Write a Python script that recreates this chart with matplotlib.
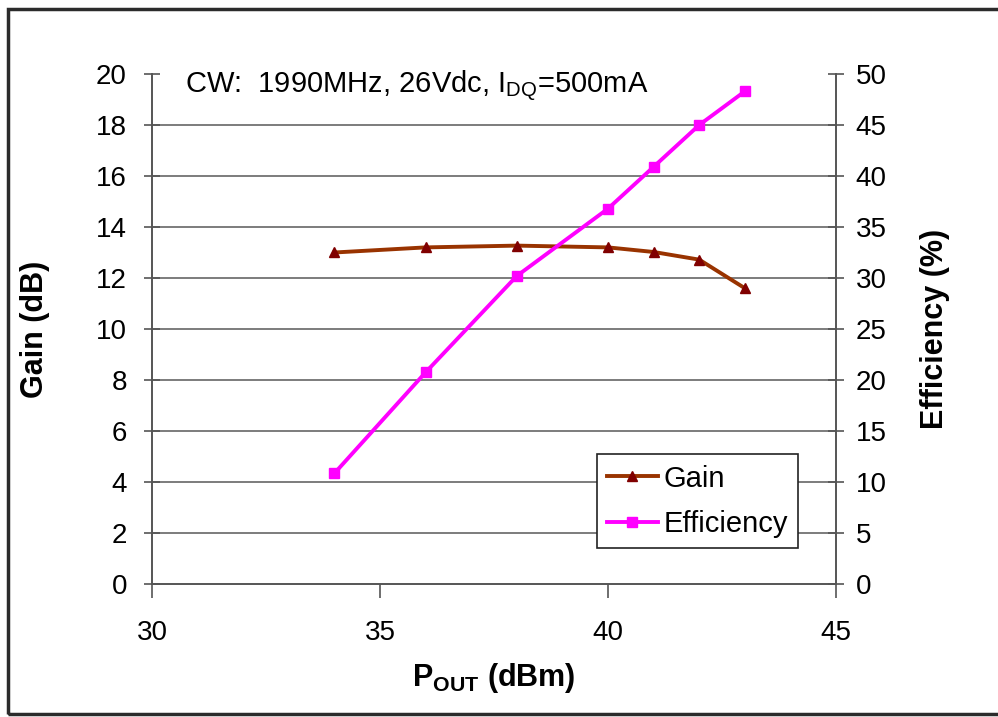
import matplotlib
matplotlib.use("Agg")
import matplotlib.pyplot as plt
from matplotlib.patches import Rectangle

plt.rcParams['font.family'] = ['Liberation Sans', 'DejaVu Sans']
plt.rcParams['mathtext.fontset'] = 'custom'
plt.rcParams['mathtext.rm'] = 'Liberation Sans'
plt.rcParams['mathtext.it'] = 'Liberation Sans'
plt.rcParams['mathtext.bf'] = 'Liberation Sans:bold'

pout = [34, 36, 38, 40, 41, 42, 43]
gain = [13.0, 13.2, 13.27, 13.2, 13.02, 12.72, 11.6]
efficiency = [10.85, 20.75, 30.2, 36.8, 40.9, 45.0, 48.3]

x_ticks = [30, 35, 40, 45]
gain_ticks = list(range(0, 21, 2))
eff_ticks = list(range(0, 51, 5))

fig = plt.figure(figsize=(9.98, 7.17), dpi=100)
ax = fig.add_axes([0.1523, 0.1855, 0.6854, 0.7113])
ax2 = ax.twinx()

for g in gain_ticks[1:-1]:
    ax.axhline(g, color='#666666', lw=1.2, zorder=0)

l1, = ax.plot(pout, gain, color='#993300', lw=2.8, marker='^', ms=7,
              mfc='#800000', mec='#800000', label='Gain', zorder=3)
l2, = ax2.plot(pout, efficiency, color='#FF00FF', lw=2.8, marker='s', ms=7,
               mfc='#FF00FF', mec='#FF00FF', label='Efficiency', zorder=3)

ax.set_xlim(30, 45)
ax.set_ylim(0, 20)
ax2.set_ylim(0, 50)
ax.set_xticks(x_ticks)
ax.set_yticks(gain_ticks)
ax2.set_yticks(eff_ticks)

for a in (ax, ax2):
    a.spines['top'].set_visible(False)
    for s in a.spines.values():
        s.set_color('#555555')
        s.set_linewidth(1.2)
    a.tick_params(direction='inout', length=12, width=1.2, color='#555555',
                  labelsize=20)
ax.tick_params(axis='y', pad=12)
ax2.tick_params(axis='y', pad=8)
ax.tick_params(axis='x', direction='out', length=10, pad=16)

ax.set_ylabel('Gain (dB)', fontsize=22, fontweight='bold', labelpad=33)
ax2.set_ylabel('Efficiency (%)', fontsize=22, fontweight='bold', labelpad=24)
ax.set_xlabel(r'$\mathbf{P_{OUT}}$ (dBm)', fontsize=22, fontweight='bold', labelpad=11)

ax.text(0.048, 0.975, r'CW:  1990MHz, 26Vdc, I$_{\mathrm{DQ}}$=500mA',
        transform=ax.transAxes, fontsize=21, ha='left', va='center')

leg = ax.legend(handles=[l1, l2], loc='lower left', bbox_to_anchor=(0.65, 0.07),
                fontsize=21, frameon=True, fancybox=False, edgecolor='#222222',
                framealpha=1, handlelength=1.75, borderpad=0.35, labelspacing=0.6,
                handletextpad=0.2, borderaxespad=0.0)
leg.get_frame().set_linewidth(1.2)
leg.set_zorder(5)

fig.patches.append(Rectangle((8 / 998, 3 / 717), 1.05, 705 / 717,
                             transform=fig.transFigure, fill=False,
                             edgecolor='#2b2b2b', lw=2.5))

fig.savefig('out.png', dpi=100)
